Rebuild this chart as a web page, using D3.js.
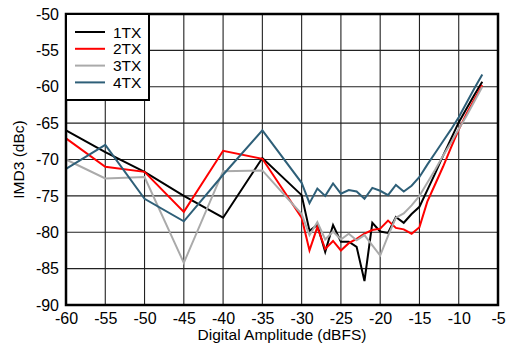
<!DOCTYPE html>
<html><head><meta charset="utf-8">
<script src="https://cdn.jsdelivr.net/npm/d3@7"></script>
<style>body{margin:0;background:#fff}svg{display:block}</style>
</head><body><svg id="c" width="508" height="350"></svg>
<script>
const amplitude = [-60,-55,-50,-45,-40,-35,-30,-29,-28,-27,-26,-25,-24,-23,-22,-21,-20,-19,-18,-17,-16,-15,-14,-13,-12,-11,-10,-9,-8,-7];
const imd1TX = [-66.0,-69.0,-71.7,-75.0,-78.0,-69.8,-74.9,-79.8,-79.0,-82.7,-79.0,-81.3,-81.3,-82.0,-86.7,-78.7,-79.9,-80.1,-77.9,-78.7,-77.5,-76.5,-74.2,-71.9,-69.5,-67.2,-64.9,-63.0,-61.1,-59.3];
const imd2TX = [-67.1,-71.0,-71.7,-77.2,-68.8,-69.9,-78.0,-82.5,-79.3,-82.3,-81.2,-82.5,-81.5,-80.9,-80.2,-79.7,-79.5,-78.4,-79.4,-79.6,-80.2,-79.3,-75.8,-73.4,-71.0,-68.4,-65.9,-63.7,-61.7,-59.8];
const imd3TX = [-70.0,-72.6,-72.4,-84.2,-71.6,-71.5,-77.5,-80.4,-78.6,-81.0,-79.9,-81.0,-80.2,-81.1,-80.4,-81.8,-83.2,-80.5,-78.0,-77.4,-76.3,-75.0,-73.2,-71.4,-69.5,-67.7,-65.8,-64.0,-62.0,-60.0];
const imd4TX = [-71.3,-68.0,-75.4,-78.5,-72.1,-66.0,-73.2,-76.0,-74.0,-75.0,-73.3,-74.7,-74.2,-74.4,-75.4,-73.9,-74.3,-74.9,-73.5,-74.4,-73.6,-72.4,-70.7,-69.1,-67.5,-65.9,-64.2,-62.2,-60.2,-58.3];
const seriesNames = ["1TX","2TX","3TX","4TX"];
const seriesColors = ["#000000","#ff0000","#aaaaaa","#2e5f78"];
const xTicks = [-60,-55,-50,-45,-40,-35,-30,-25,-20,-15,-10,-5];
const yTicks = [-50,-55,-60,-65,-70,-75,-80,-85,-90];
const xTitle = "Digital Amplitude (dBFS)";
const yTitle = "IMD3 (dBc)";

const allSeries = [imd1TX, imd2TX, imd3TX, imd4TX];
const L = 66, R = 498, T = 14, B = 305;
const svg = d3.select("#c");
const font = "Liberation Sans, Arial, sans-serif";
const x = d3.scaleLinear().domain([-60,-5]).range([L,R]);
const y = d3.scaleLinear().domain([-90,-50]).range([B,T]);

// grid
const g = svg.append("g");
g.selectAll("line.vx").data(xTicks).enter().append("line")
  .attr("x1", d=>x(d)).attr("x2", d=>x(d)).attr("y1", T).attr("y2", B)
  .attr("stroke","#222").attr("stroke-width",1.1);
g.selectAll("line.hy").data(yTicks).enter().append("line")
  .attr("y1", d=>y(d)).attr("y2", d=>y(d)).attr("x1", L).attr("x2", R)
  .attr("stroke","#222").attr("stroke-width",1.1);

// axes labels via d3 axes
const xAxis = svg.append("g").attr("transform",`translate(0,${B})`)
  .call(d3.axisBottom(x).tickValues(xTicks).tickSize(0).tickPadding(8).tickFormat(d3.format("d")));
const yAxis = svg.append("g").attr("transform",`translate(${L},0)`)
  .call(d3.axisLeft(y).tickValues(yTicks).tickSize(0).tickPadding(7).tickFormat(d3.format("d")));
[xAxis,yAxis].forEach(a=>{
  a.select(".domain").remove();
  a.selectAll("text").attr("font-family",font).attr("font-size",16).attr("fill","#000");
});
xAxis.selectAll("text").text(d=>d3.format("d")(d).replace("\u2212","-"));
yAxis.selectAll("text").text(d=>d3.format("d")(d).replace("\u2212","-"));

// lines
const line = d3.line().x((d,i)=>x(amplitude[i])).y(d=>y(d));
allSeries.forEach((s,k)=>{
  svg.append("path").datum(s).attr("d",line)
    .attr("fill","none").attr("stroke",seriesColors[k]).attr("stroke-width",2)
    .attr("stroke-linejoin","miter");
});

// border
svg.append("rect").attr("x",L).attr("y",T).attr("width",R-L).attr("height",B-T)
  .attr("fill","none").attr("stroke","#000").attr("stroke-width",2.5);

// legend
const lg = svg.append("g");
lg.append("rect").attr("x",L).attr("y",T).attr("width",83).attr("height",86)
  .attr("fill","#fff").attr("stroke","#000").attr("stroke-width",2);
seriesNames.forEach((n,k)=>{
  const yy = 32 + k*16.8;
  lg.append("line").attr("x1",75).attr("x2",105).attr("y1",yy).attr("y2",yy)
    .attr("stroke",seriesColors[k]).attr("stroke-width",2);
  lg.append("text").attr("x",113).attr("y",yy+5.5).text(n)
    .attr("font-family",font).attr("font-size",15.5).attr("fill","#000");
});

// titles
svg.append("text").attr("x",(L+R)/2).attr("y",340).attr("text-anchor","middle")
  .attr("font-family",font).attr("font-size",15.5).text(xTitle);
svg.append("text").attr("transform",`translate(24,${(T+B)/2}) rotate(-90)`)
  .attr("text-anchor","middle").attr("font-family",font).attr("font-size",15.5).text(yTitle);
</script></body></html>
